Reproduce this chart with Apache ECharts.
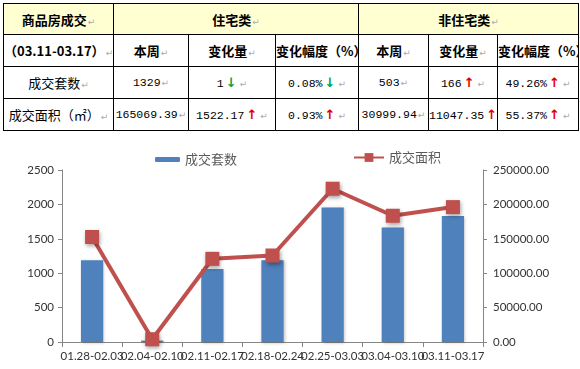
<!DOCTYPE html>
<html>
<head>
<meta charset="utf-8">
<script src="https://cdn.jsdelivr.net/npm/echarts@6/dist/echarts.min.js"></script>
<style>
html,body{margin:0;padding:0;background:#fff;width:580px;height:369px;overflow:hidden;}
#chart{position:absolute;left:0;top:0;width:580px;height:369px;}
#tbl{position:absolute;left:3px;top:3px;width:575px;border-collapse:collapse;table-layout:fixed;z-index:2;background:#fff;
  font-family:"Noto Sans CJK SC","DejaVu Sans",sans-serif;font-size:13px;color:#000;}
#tbl td{border:1px solid #000;text-align:center;vertical-align:middle;padding:0;white-space:nowrap;overflow:hidden;}
#tbl tr.h1 td{background:#FFFFD2;font-weight:bold;height:30px;}
#tbl tr.h2 td{font-weight:bold;height:31px;}
#tbl tr.d td{height:31px;}
#tbl tr.d td.n{font-family:"Liberation Mono","DejaVu Sans Mono",monospace;font-size:11.5px;}
.rt{color:#aaa;font-family:"DejaVu Sans",sans-serif;font-size:9px;font-weight:normal;margin-left:1px;}
.up{color:#E00000;font-weight:bold;font-family:"DejaVu Sans",sans-serif;font-size:13px;margin:0 2px;}
.dn{color:#00A050;font-weight:bold;font-family:"DejaVu Sans",sans-serif;font-size:13px;margin:0 2px;}
</style>
</head>
<body>
<div id="chart"></div>
<table id="tbl"></table>
<script>
// ---- table data ----
var headerTop = ['商品房成交', '住宅类', '非住宅类'];
var headerSub = ['（03.11-03.17）', '本周', '变化量', '变化幅度（%）', '本周', '变化量', '变化幅度（%）'];
var rowNames = ['成交套数', '成交面积（㎡）'];
var rowValues = [
  ['1329', '1', '0.08%', '503', '166', '49.26%'],
  ['165069.39', '1522.17', '0.93%', '30999.94', '11047.35', '55.37%']
];
var rowArrows = [
  [null, 'dn', 'dn', null, 'up', 'up'],
  [null, 'up', 'up', null, 'up', 'up']
];
var colWidths = [110, 75, 87, 83, 70, 69, 81];

// ---- chart data ----
var categories = ['01.28-02.03', '02.04-02.10', '02.11-02.17', '02.18-02.24', '02.25-03.03', '03.04-03.10', '03.11-03.17'];
var countValues = [1190, 20, 1060, 1190, 1955, 1665, 1832];
var areaValues = [152600, 4000, 120900, 125700, 222800, 183500, 196069.33];
var seriesNames = ['成交套数', '成交面积'];

// build table
var tbl = document.getElementById('tbl');
var cg = '<colgroup>' + colWidths.map(function(w){return '<col style="width:' + w + 'px">';}).join('') + '</colgroup>';
var RT = '<span class="rt">↵</span>';
var html = cg;
html += '<tr class="h1"><td>' + headerTop[0] + RT + '</td><td colspan="3">' + headerTop[1] + RT + '</td><td colspan="3">' + headerTop[2] + RT + '</td></tr>';
html += '<tr class="h2">' + headerSub.map(function(t){return '<td>' + t + RT + '</td>';}).join('') + '</tr>';
rowNames.forEach(function(name, i){
  html += '<tr class="d"><td>' + name + RT + '</td>';
  rowValues[i].forEach(function(v, j){
    var a = rowArrows[i][j];
    var arr = a ? '<span class="' + a + '">' + (a === 'up' ? '↑' : '↓') + '</span>' : '';
    html += '<td class="n">' + v + arr + RT + '</td>';
  });
  html += '</tr>';
});
tbl.innerHTML = html;

// chart
var chart = echarts.init(document.getElementById('chart'), null, {renderer: 'canvas'});
var labelFont = {color: '#333', fontSize: 11.5, fontFamily: 'Lato, "Liberation Sans", sans-serif'};
var axisLine = {show: true, lineStyle: {color: '#868686', width: 1}};
chart.setOption({
  animation: false,
  backgroundColor: '#fff',
  grid: {left: 62, right: 97, top: 170, bottom: 27, containLabel: false},
  legend: [
    {data: [seriesNames[0]], left: 150, top: 148, itemWidth: 25, itemHeight: 5,
     textStyle: {color: '#595959', fontSize: 13, fontFamily: '"Noto Sans CJK SC", sans-serif'}},
    {data: [seriesNames[1]], left: 348, top: 146, itemWidth: 30, itemHeight: 11,
     textStyle: {color: '#595959', fontSize: 13, fontFamily: '"Noto Sans CJK SC", sans-serif'}}
  ],
  xAxis: {
    type: 'category', data: categories, boundaryGap: true,
    axisLine: axisLine,
    axisTick: {show: true, alignWithLabel: false, length: 5, lineStyle: {color: '#868686'}},
    axisLabel: Object.assign({interval: 0, margin: 8}, labelFont),
    splitLine: {show: false}
  },
  yAxis: [
    {type: 'value', min: 0, max: 2500, interval: 500, position: 'left',
     axisLine: axisLine, axisTick: {show: true, length: 4, lineStyle: {color: '#868686'}},
     axisLabel: Object.assign({margin: 8, formatter: function(v){return String(v);}}, labelFont), splitLine: {show: false}},
    {type: 'value', min: 0, max: 250000, interval: 50000, position: 'right',
     axisLine: axisLine, axisTick: {show: true, length: 4, lineStyle: {color: '#868686'}},
     axisLabel: Object.assign({margin: 10, formatter: function(v){return v.toFixed(2);}}, labelFont),
     splitLine: {show: false}}
  ],
  series: [
    {name: seriesNames[0], type: 'bar', data: countValues, yAxisIndex: 0, barWidth: '37%', z: 1,
     itemStyle: {color: '#4F81BD', shadowBlur: 3, shadowColor: 'rgba(0,0,0,0.25)', shadowOffsetX: 1, shadowOffsetY: 1}},
    {name: seriesNames[1], type: 'line', data: areaValues, yAxisIndex: 1, z: 3,
     symbol: 'rect', symbolSize: 14,
     lineStyle: {color: '#C0504D', width: 4},
     itemStyle: {color: '#C0504D', shadowBlur: 4, shadowColor: 'rgba(0,0,0,0.35)', shadowOffsetX: 1, shadowOffsetY: 2}}
  ]
});
</script>
</body>
</html>
